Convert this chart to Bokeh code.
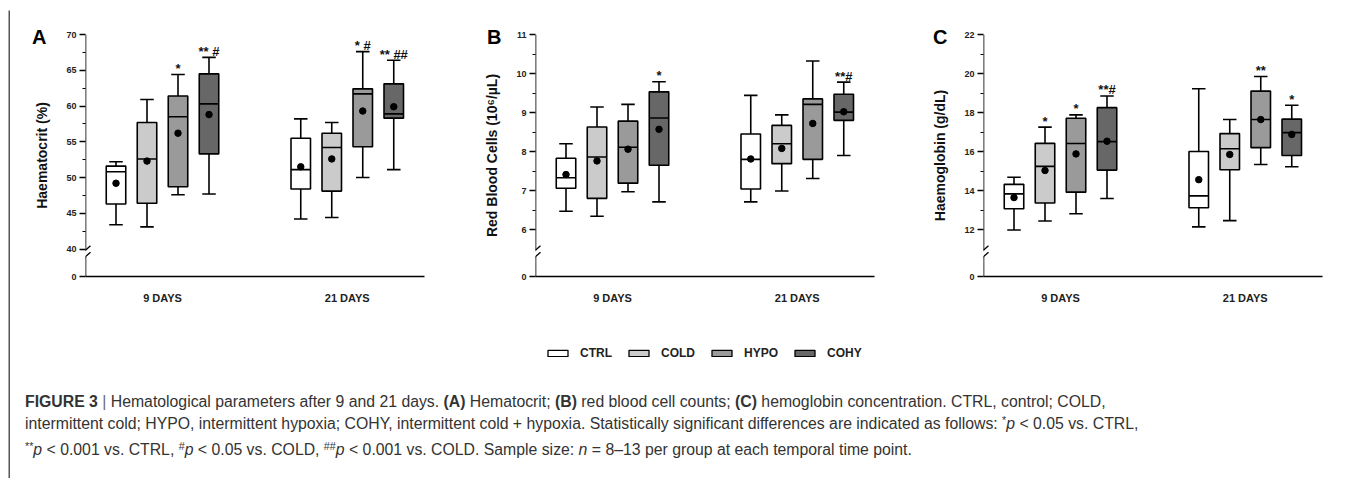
from bokeh.plotting import figure
from bokeh.models import (FixedTicker, Arrow, Legend, LegendItem, ColumnDataSource, Div, Range1d,
                          LinearAxis)
from bokeh.layouts import row, column
from bokeh.embed import file_html
from bokeh.resources import INLINE
from bokeh.core.properties import value

groups = ["CTRL", "COLD", "HYPO", "COHY"]
days = ["9 DAYS", "21 DAYS"]
colors = ["#ffffff", "#cbcbcb", "#9a9a9a", "#676767"]

# order of every series: 9 DAYS (CTRL, COLD, HYPO, COHY), then 21 DAYS (CTRL, COLD, HYPO, COHY)
hct_low = [43.4, 43.1, 47.6, 47.7, 44.2, 44.4, 50.0, 51.1]
hct_q1 = [46.3, 46.4, 48.7, 53.3, 48.4, 48.1, 54.3, 58.3]
hct_med = [50.8, 52.6, 58.5, 60.3, 51.1, 54.2, 61.7, 58.9]
hct_q3 = [51.6, 57.7, 61.4, 64.5, 55.5, 56.2, 62.4, 63.1]
hct_high = [52.2, 60.9, 64.4, 66.8, 58.2, 57.7, 67.6, 66.4]
hct_mean = [49.2, 52.3, 56.2, 58.8, 51.5, 52.6, 59.3, 59.9]
hct_sig = ["", "", "*", "** #", "", "", "* #", "** ##"]
hct_ticks = [40, 45, 50, 55, 60, 65, 70]
hct_minor = [42.5, 47.5, 52.5, 57.5, 62.5, 67.5]

rbc_low = [6.47, 6.34, 6.97, 6.71, 6.71, 6.99, 7.31, 7.90]
rbc_q1 = [7.06, 6.80, 7.19, 7.65, 7.04, 7.69, 7.80, 8.80]
rbc_med = [7.33, 7.86, 8.11, 8.86, 7.80, 8.20, 9.21, 9.01]
rbc_q3 = [7.83, 8.63, 8.78, 9.53, 8.45, 8.67, 9.35, 9.47]
rbc_high = [8.20, 9.14, 9.21, 9.79, 9.44, 8.94, 10.32, 9.78]
rbc_mean = [7.41, 7.76, 8.06, 8.57, 7.81, 8.08, 8.72, 9.02]
rbc_sig = ["", "", "", "*", "", "", "", "**#"]
rbc_ticks = [6, 7, 8, 9, 10, 11]
rbc_minor = [6.5, 7.5, 8.5, 9.5, 10.5]

hb_low = [11.98, 12.44, 12.81, 13.59, 12.14, 12.46, 15.34, 15.22]
hb_q1 = [13.07, 13.36, 13.92, 15.05, 13.12, 15.07, 16.20, 15.80]
hb_med = [13.83, 15.24, 16.41, 16.51, 13.73, 16.14, 17.64, 16.97]
hb_q3 = [14.32, 16.42, 17.71, 18.25, 16.00, 16.92, 19.10, 17.66]
hb_high = [14.68, 17.25, 17.88, 18.85, 19.22, 17.64, 19.85, 18.37]
hb_mean = [13.64, 15.03, 15.88, 16.53, 14.56, 15.85, 17.64, 16.88]
hb_sig = ["", "*", "*", "**#", "", "", "**", "*"]
hb_ticks = [12, 14, 16, 18, 20, 22]
hb_minor = [13, 15, 17, 19, 21]

FONT = "Liberation Sans"
FRAME_W = 339
FRAME_H = 244
PX_PER_DAY = 184.75
PX_BOX_STEP = 31.0
PX_BOX_W = 19.5
PX_CAP_W = 13.5


def make_panel(letter, ylabel, ticks, minor, break_px, low, q1, med, q3, high, mean, sig,
               width, left, top, letter_standoff):
    height = 310
    bottom = height - top - FRAME_H
    right = width - left - FRAME_W
    x0 = 1.0 - 77.0 / PX_PER_DAY
    x1 = x0 + FRAME_W / PX_PER_DAY
    pxu = (FRAME_H - break_px) / (ticks[-1] - ticks[0])
    y0 = ticks[0] - break_px / pxu
    y1 = ticks[-1]
    p = figure(width=width, height=height, x_range=Range1d(x0, x1), y_range=Range1d(y0, y1),
               toolbar_location=None, output_backend="svg",
               min_border_left=left, min_border_right=right, min_border_top=top,
               min_border_bottom=bottom)
    p.outline_line_color = None
    p.grid.visible = False
    p.background_fill_color = "white"
    p.border_fill_color = "white"

    xs, cols = [], []
    for d in range(len(days)):
        for g in range(len(groups)):
            xs.append(1.0 + d + (g - 1.5) * PX_BOX_STEP / PX_PER_DAY)
            cols.append(colors[g])
    bw = PX_BOX_W / PX_PER_DAY
    cw = PX_CAP_W / PX_PER_DAY
    src = ColumnDataSource(dict(
        x=xs, low=low, q1=q1, med=med, q3=q3, high=high, mean=mean, sig=sig, color=cols,
        xl=[x - bw / 2 for x in xs], xr=[x + bw / 2 for x in xs],
        cl=[x - cw / 2 for x in xs], cr=[x + cw / 2 for x in xs]))

    lw = 1.6
    p.segment(x0="x", y0="low", x1="x", y1="high", source=src, line_color="black", line_width=lw)
    p.segment(x0="cl", y0="high", x1="cr", y1="high", source=src, line_color="black", line_width=lw)
    p.segment(x0="cl", y0="low", x1="cr", y1="low", source=src, line_color="black", line_width=lw)
    p.vbar(x="x", width=bw, bottom="q1", top="q3", source=src, fill_color="color",
           line_color="black", line_width=lw)
    p.segment(x0="xl", y0="med", x1="xr", y1="med", source=src, line_color="black", line_width=lw)
    p.scatter(x="x", y="mean", source=src, size=6.5, color="black")
    p.text(x="x", y="high", text="sig", source=src, text_align="center",
           text_baseline="alphabetic", y_offset=-6, text_font=value(FONT),
           text_font_style="bold", text_font_size="13px", text_color="#111111")

    # y axis
    yax = p.yaxis[0]
    yax.ticker = FixedTicker(ticks=[y0] + ticks, minor_ticks=minor)
    yax.major_label_overrides = {y0: "0"}
    yax.axis_line_color = None
    yax.major_tick_in = 0
    yax.major_tick_out = 6
    yax.minor_tick_in = 0
    yax.minor_tick_out = 3
    yax.major_tick_line_width = 1.3
    yax.minor_tick_line_width = 1.0
    yax.major_tick_line_color = "black"
    yax.minor_tick_line_color = "black"
    yax.major_label_text_font = FONT
    yax.major_label_text_font_style = "bold"
    yax.major_label_text_font_size = "9px"
    yax.major_label_text_color = "#222222"
    yax.major_label_standoff = 3
    yax.axis_label = ylabel
    yax.axis_label_text_font = FONT
    yax.axis_label_text_font_style = "bold"
    yax.axis_label_text_font_size = "14px"
    yax.axis_label_text_color = "#111111"
    yax.axis_label_standoff = 13

    # panel letter: single label of an outer left axis, level with the top of the y axis
    uy = (y1 - y0) / FRAME_H
    y_letter = y1 - 2.5 * uy
    lax = LinearAxis(ticker=FixedTicker(ticks=[y_letter]), major_label_overrides={y_letter: letter})
    lax.axis_line_color = None
    lax.major_tick_line_color = None
    lax.minor_tick_line_color = None
    lax.major_label_text_font = FONT
    lax.major_label_text_font_style = "bold"
    lax.major_label_text_font_size = "20px"
    lax.major_label_text_color = "black"
    lax.major_label_standoff = letter_standoff
    p.add_layout(lax, "left")

    # x axis
    xax = p.xaxis[0]
    xax.ticker = FixedTicker(ticks=[1.0 + d for d in range(len(days))])
    xax.major_label_overrides = {1.0 + d: days[d] for d in range(len(days))}
    xax.axis_line_color = "black"
    xax.axis_line_width = 1.6
    xax.major_tick_line_color = None
    xax.minor_tick_line_color = None
    xax.major_label_text_font = FONT
    xax.major_label_text_font_style = "bold"
    xax.major_label_text_font_size = "11px"
    xax.major_label_text_color = "#222222"
    xax.major_label_standoff = 9

    # broken y axis line, with the break marks
    ux = (x1 - x0) / FRAME_W
    b_lo = y0 + 20 * uy
    b_hi = y0 + 26.5 * uy
    for ya, yb in [(y0, b_lo), (b_hi, y1)]:
        p.add_layout(Arrow(end=None, x_start=x0, y_start=ya, x_end=x0, y_end=yb,
                           line_color="black", line_width=1.6))
    for yc in [b_lo, b_hi]:
        p.add_layout(Arrow(end=None, x_start=x0 - 5 * ux, y_start=yc - 4.5 * uy,
                           x_end=x0 + 5 * ux, y_end=yc + 4.5 * uy,
                           line_color="black", line_width=1.3))
    return p


pA = make_panel("A", "Haematocrit (%)", hct_ticks, hct_minor, 27.7,
                hct_low, hct_q1, hct_med, hct_q3, hct_high, hct_mean, hct_sig,
                448, 75, 24, -21)
pB = make_panel("B", "Red Blood Cells (10\u2076/\u00b5L)", rbc_ticks, rbc_minor, 47.3,
                rbc_low, rbc_q1, rbc_med, rbc_q3, rbc_high, rbc_mean, rbc_sig,
                448, 77, 24, -26)
pC = make_panel("C", "Haemoglobin (g/dL)", hb_ticks, hb_minor, 47.3,
                hb_low, hb_q1, hb_med, hb_q3, hb_high, hb_mean, hb_sig,
                441, 77, 22, -24)

# legend strip: proxy renderers hold no drawable point, only their legend swatches show
pL = figure(width=1337, height=70, x_range=(0, 1), y_range=(0, 1), toolbar_location=None,
            output_backend="svg", min_border=0)
pL.axis.visible = False
pL.grid.visible = False
pL.outline_line_color = None
items = []
nan = float("nan")
for g, c in zip(groups, colors):
    r = pL.vbar(x=[nan], top=[nan], bottom=[nan], width=0.1, fill_color=c,
                line_color="black", line_width=1.3)
    items.append(LegendItem(label=g, renderers=[r]))
leg = Legend(items=items, orientation="horizontal", location=(535, 30), glyph_width=25,
             glyph_height=8, label_text_font=FONT, label_text_font_style="bold",
             label_text_font_size="12px", label_text_color="#222222", label_standoff=10,
             label_height=14, spacing=14, padding=0, margin=0, border_line_color=None,
             background_fill_alpha=0)
pL.add_layout(leg)

SUP = "<span style='position:relative;top:-0.45em;font-size:0.68em'>{}</span>"
line1 = ("<b>FIGURE 3</b> <span style='color:#666'>|</span> Hematological parameters after 9 and 21 days. "
         "<b>(A)</b> Hematocrit; <b>(B)</b> red blood cell counts; <b>(C)</b> hemoglobin concentration. "
         "CTRL, control; COLD,")
line2 = ("intermittent cold; HYPO, intermittent hypoxia; COHY, intermittent cold + hypoxia. "
         "Statistically significant differences are indicated as follows: "
         + SUP.format("*") + "<i>p</i> &lt; 0.05 vs. CTRL,")
line3 = (SUP.format("**") + "<i>p</i> &lt; 0.001 vs. CTRL, " + SUP.format("#")
         + "<i>p</i> &lt; 0.05 vs. COLD, " + SUP.format("##")
         + "<i>p</i> &lt; 0.001 vs. COLD. Sample size: <i>n</i> = 8\u201313 per group at each temporal time point.")
caption_html = (
    "<div style='height:1px'></div>"
    "<div style='height:22px;line-height:22px'>" + line1 + "</div>"
    "<div style='height:26px;line-height:22px'>" + line2 + "</div>"
    "<div style='height:22px;line-height:22px'>" + line3 + "</div>"
)
cap = Div(text=caption_html, width=1335, height=74, margin=0,
          styles={"font-family": FONT, "font-size": "15.8px",
                  "color": "#333333", "padding-left": "15px", "white-space": "nowrap"})


# top and left edges of the figure box, drawn as thin solid plot frames (no title panel)
def edge(w, h, top):
    e = figure(width=w, height=h, toolbar_location=None, output_backend="svg", min_border=0,
               title_location=None, x_range=(0, 1), y_range=(0, 1))
    e.min_border_top = top
    e.axis.visible = False
    e.grid.visible = False
    e.outline_line_color = None
    e.background_fill_color = "#555555"
    e.border_fill_color = "white"
    return e


top_line = edge(1347, 10, 8)
left_line = edge(2, 468, 0)

content = column(row(pA, pB, pC), pL, cap)
layout = column(top_line, row(left_line, content), margin=(0, 0, 0, 8))

open("out.html", "w").write(file_html(layout, INLINE))
